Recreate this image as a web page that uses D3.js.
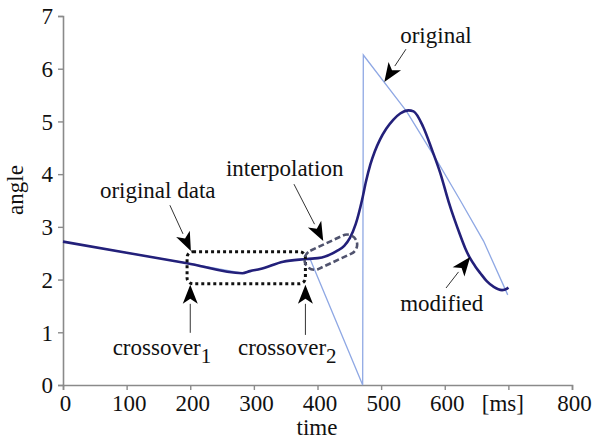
<!DOCTYPE html>
<html>
<head>
<meta charset="utf-8">
<script src="https://cdn.jsdelivr.net/npm/d3@7"></script>
<style>
  html, body { margin: 0; padding: 0; background: #fff; }
  svg { display: block; }
  text { font-family: "Liberation Serif", "Times New Roman", serif; fill: #111; }
</style>
</head>
<body>
<svg id="chart" width="595" height="439"></svg>
<script>
// ---------- data ----------
const xTicks = [0, 100, 200, 300, 400, 500, 600, 700, 800];
const xTickLabels = ["0", "100", "200", "300", "400", "500", "600", "[ms]", "800"];
const yTicks = [0, 1, 2, 3, 4, 5, 6, 7];
const yTickLabels = ["0", "1", "2", "3", "4", "5", "6", "7"];

const modifiedT = [0, 100, 195, 282, 294, 310, 346, 383, 407, 430, 442, 451, 460, 470, 476, 483, 490, 498, 508, 519, 530, 543, 551, 566, 580, 593, 606, 615, 624, 632, 640, 648, 656, 666, 677, 690, 698, 700];
const modifiedV = [2.72, 2.51, 2.31, 2.12, 2.16, 2.20, 2.34, 2.39, 2.42, 2.54, 2.64, 2.79, 3.05, 3.51, 3.85, 4.18, 4.43, 4.65, 4.86, 5.03, 5.15, 5.21, 5.19, 4.90, 4.46, 4.02, 3.48, 3.15, 2.85, 2.60, 2.40, 2.25, 2.12, 1.97, 1.86, 1.80, 1.83, 1.85];

const originalT = [0, 100, 195, 282, 294, 310, 346, 388, 471, 472, 540, 590, 624, 661, 699];
const originalV = [2.72, 2.51, 2.31, 2.12, 2.16, 2.20, 2.34, 2.40, 0, 6.26, 5.19, 4.21, 3.51, 2.73, 1.71];

// annotation anchors in data units [t, value]
const labelTexts = ["original data", "interpolation", "original", "modified"];
const labelPos = [[58, 3.55], [256, 3.97], [530, 6.49], [530, 1.40]];
const arrowFrom = [[168, 3.41], [363, 3.81], [539, 6.37], [602, 1.84], [200, 0.99], [381, 0.95]];
const arrowTo   = [[201, 2.54], [409, 2.73], [505, 5.75], [640, 2.43], [200, 1.90], [381, 1.90]];
const crossLabels = ["crossover", "crossover"];
const crossSubs = ["1", "2"];
const crossPos = [[78, 0.57], [275, 0.57]];
const boxT = [195, 381];
const boxV = [1.92, 2.53];
const ellipseCenter = [421, 2.52];

// ---------- layout ----------
const svg = d3.select("#chart");
const x = d3.scaleLinear().domain([0, 800]).range([63, 572]);
const y = d3.scaleLinear().domain([0, 7]).range([385, 16]);
const axisColor = "#8a8a8a";
const fontSize = 23;

// axes
const xAxis = svg.append("g").attr("transform", `translate(0,${y(0)})`)
  .call(d3.axisBottom(x).tickValues(xTicks).tickSize(5).tickPadding(5)
    .tickFormat((d, i) => xTickLabels[i]));
const yAxis = svg.append("g").attr("transform", `translate(${x(0)},0)`)
  .call(d3.axisLeft(y).tickValues(yTicks).tickSize(5).tickPadding(5)
    .tickFormat((d, i) => yTickLabels[i]));
[xAxis, yAxis].forEach(g => {
  g.select(".domain").attr("stroke", axisColor).attr("stroke-width", 1.6);
  g.selectAll(".tick line").attr("stroke", axisColor).attr("stroke-width", 1.4);
  g.selectAll(".tick text").attr("font-size", fontSize)
    .attr("font-family", "Liberation Serif").attr("fill", "#111");
});
xAxis.selectAll(".tick text").attr("dy", "0.68em").attr("dx", (d, i) => i === 7 ? -6 : 2);
yAxis.selectAll(".tick text").attr("dy", "0.34em");

// axis titles
svg.append("text").attr("x", 317).attr("y", 435).attr("text-anchor", "middle")
  .attr("font-size", fontSize).text("time");
svg.append("text").attr("transform", "translate(23,190) rotate(-90)")
  .attr("text-anchor", "middle").attr("font-size", fontSize).text("angle");

// lines
const line = d3.line().x(d => x(d[0])).y(d => y(d[1]));
const origData = originalT.map((t, i) => [t, originalV[i]]);
const modData = modifiedT.map((t, i) => [t, modifiedV[i]]);
svg.append("path").attr("d", line(origData)).attr("fill", "none")
  .attr("stroke", "#8fa8e4").attr("stroke-width", 1.3);
svg.append("path").attr("d", line.curve(d3.curveMonotoneX)(modData)).attr("fill", "none")
  .attr("stroke", "#23207a").attr("stroke-width", 2.6).attr("stroke-linejoin", "round");

// dotted box
svg.append("rect")
  .attr("x", x(boxT[0])).attr("y", y(boxV[1]))
  .attr("width", x(boxT[1]) - x(boxT[0])).attr("height", y(boxV[0]) - y(boxV[1]))
  .attr("rx", 6).attr("fill", "none").attr("stroke", "#111")
  .attr("stroke-width", 3).attr("stroke-dasharray", "3,3");

// dashed stadium
svg.append("rect")
  .attr("transform", `translate(${x(ellipseCenter[0])},${y(ellipseCenter[1])}) rotate(-25)`)
  .attr("x", -28).attr("y", -10).attr("width", 56).attr("height", 20).attr("rx", 10)
  .attr("fill", "none").attr("stroke", "#50536e").attr("stroke-width", 2.6)
  .attr("stroke-dasharray", "6,3");

// labels
labelTexts.forEach((t, i) => {
  svg.append("text").attr("x", x(labelPos[i][0])).attr("y", y(labelPos[i][1]))
    .attr("font-size", fontSize).text(t);
});
crossLabels.forEach((t, i) => {
  const tx = svg.append("text").attr("x", x(crossPos[i][0])).attr("y", y(crossPos[i][1]))
    .attr("font-size", fontSize);
  tx.append("tspan").text(t);
  tx.append("tspan").attr("dy", 8).attr("font-size", 21).text(crossSubs[i]);
});

// arrows
arrowFrom.forEach((f, i) => {
  const x1 = x(f[0]), y1 = y(f[1]), x2 = x(arrowTo[i][0]), y2 = y(arrowTo[i][1]);
  const ang = Math.atan2(y2 - y1, x2 - x1);
  const L = 19, W = 7.5;
  const bx = x2 - L * Math.cos(ang), by = y2 - L * Math.sin(ang);
  svg.append("line").attr("x1", x1).attr("y1", y1).attr("x2", bx).attr("y2", by)
    .attr("stroke", "#333").attr("stroke-width", 1);
  const px = -Math.sin(ang) * W, py = Math.cos(ang) * W;
  const nx = x2 - (L - 5) * Math.cos(ang), ny = y2 - (L - 5) * Math.sin(ang);
  svg.append("path")
    .attr("d", `M${x2},${y2}L${bx + px},${by + py}L${nx},${ny}L${bx - px},${by - py}Z`)
    .attr("fill", "#000");
});
</script>
</body>
</html>
